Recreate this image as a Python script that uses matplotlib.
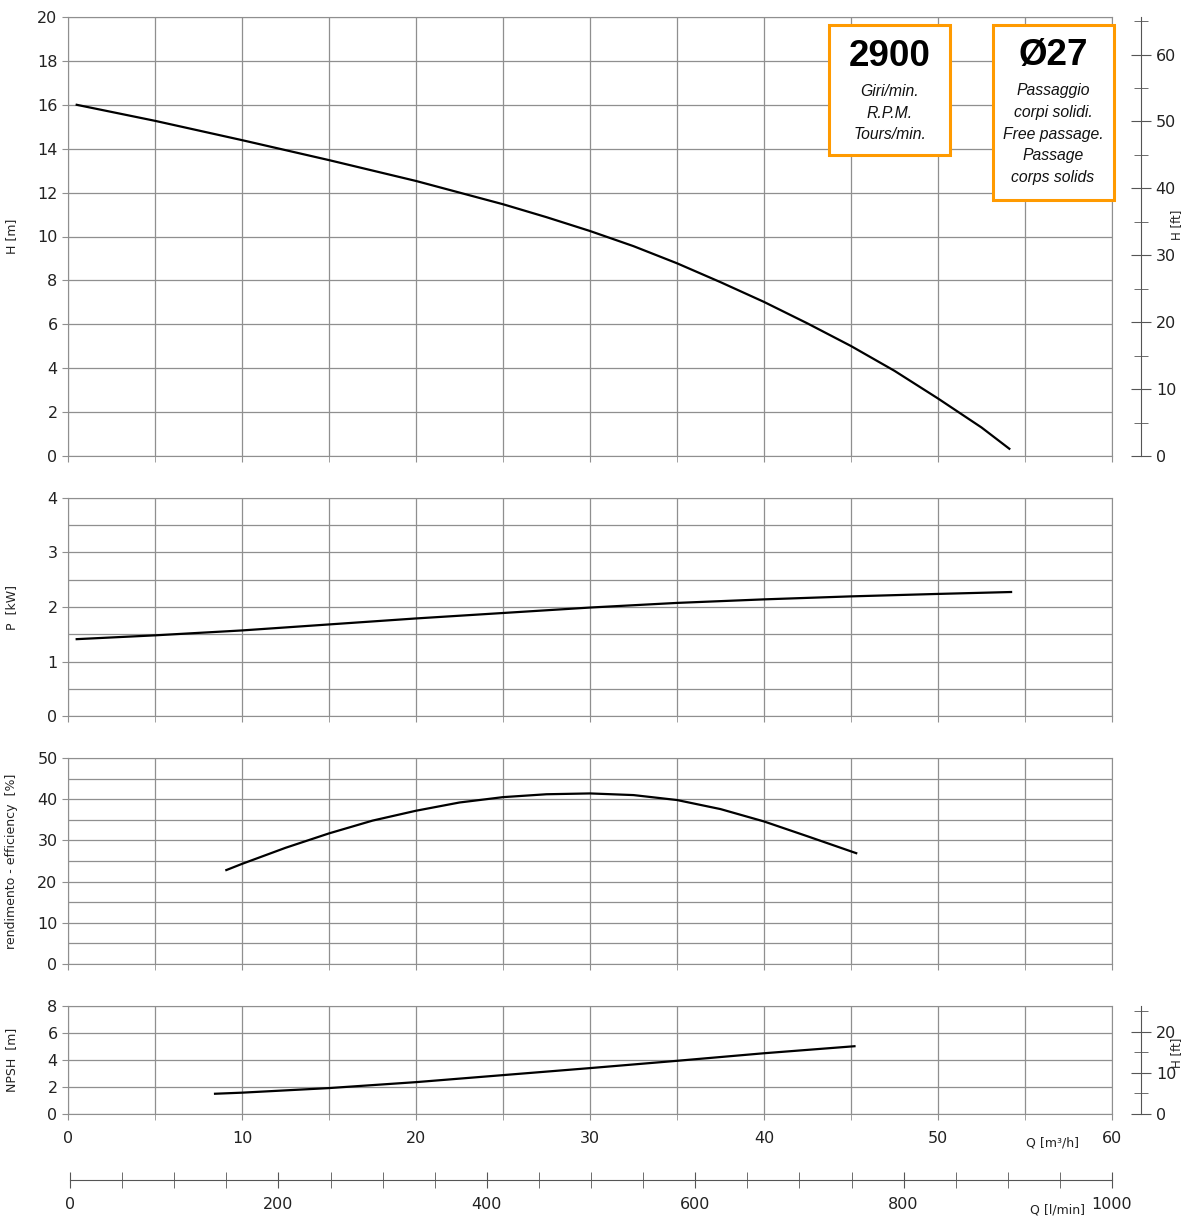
import numpy as np
import matplotlib
matplotlib.use("Agg")
import matplotlib.pyplot as plt
from matplotlib.patches import Rectangle
from matplotlib.ticker import MultipleLocator

# --- curves (Q in m3/h) ---------------------------------------------------
Q_H = [0.5, 5, 10, 15, 20, 25, 27.5, 30, 32.5, 35, 37.5, 40, 42.5, 45,
       47.5, 50, 52.5, 54.1]
H_m = [16.0, 15.27, 14.39, 13.48, 12.53, 11.47, 10.88, 10.25, 9.56, 8.78,
       7.92, 7.02, 6.04, 5.01, 3.88, 2.62, 1.30, 0.33]

Q_P = [0.5, 5, 10, 15, 20, 25, 30, 35, 40, 45, 50, 54.2]
P_kW = [1.41, 1.48, 1.57, 1.68, 1.79, 1.89, 1.99, 2.075, 2.14, 2.195, 2.24, 2.275]

Q_EFF = [9.1, 10, 12.5, 15, 17.5, 20, 22.5, 25, 27.5, 30, 32.5, 35, 37.5,
         40, 42.5, 45.3]
EFF = [22.8, 24.3, 28.2, 31.7, 34.8, 37.2, 39.2, 40.5, 41.2, 41.4, 41.0,
       39.8, 37.6, 34.6, 31.0, 26.9]

Q_NPSH = [8.45, 10, 15, 20, 25, 30, 35, 40, 45.2]
NPSH = [1.5, 1.58, 1.92, 2.36, 2.88, 3.40, 3.94, 4.5, 5.02]

M_TO_FT = 3.2808
GRID = "#8f8f8f"
ORANGE = "#FF9A00"
TXT = "#222222"
NARROW = ["Liberation Sans Narrow", "Liberation Sans", "DejaVu Sans"]

W, H = 1185, 1217
fig = plt.figure(figsize=(W / 100, H / 100), dpi=100)
plt.rcParams["font.family"] = ["DejaVu Sans"]


def fx(px):
    return px / W


def fy(py):
    return 1 - py / H


X0, X1 = 68, 1112


def panel(top, bottom, ymax, major, grid_step, ylabel, show_x=False):
    ax = fig.add_axes([fx(X0), fy(bottom), fx(X1 - X0), fy(top) - fy(bottom)])
    ax.set_xlim(0, 60)
    ax.set_ylim(0, ymax)
    ax.xaxis.set_major_locator(MultipleLocator(10))
    ax.xaxis.set_minor_locator(MultipleLocator(5))
    ax.yaxis.set_major_locator(MultipleLocator(major))
    ax.yaxis.set_minor_locator(MultipleLocator(grid_step))
    ax.grid(True, which="both", color=GRID, lw=0.9)
    for s in ax.spines.values():
        s.set_color(GRID)
    ax.tick_params(which="both", color=GRID, length=4, labelsize=11.5,
                   labelcolor=TXT)
    ax.tick_params(axis="y", which="minor", length=0)
    if not show_x:
        ax.tick_params(axis="x", which="both", labelbottom=False)
    ax.set_ylabel(ylabel, fontsize=9, color=TXT)
    ax.yaxis.set_label_coords(-0.048, 0.5)
    return ax


def ft_axis(ax, ymax_m, label_y):
    tw = ax.twinx()
    tw.set_ylim(0, ymax_m * M_TO_FT)
    for k in ("top", "bottom", "left"):
        tw.spines[k].set_visible(False)
    tw.spines["right"].set_position(("outward", 21))
    tw.spines["right"].set_color("#555555")
    tw.yaxis.set_major_locator(MultipleLocator(10))
    tw.yaxis.set_minor_locator(MultipleLocator(5))
    tw.tick_params(which="both", direction="inout", length=14, color="#555555",
                   labelsize=11.5, labelcolor=TXT)
    tw.tick_params(which="minor", length=10)
    fig.text(fx(1177), fy(label_y), "H [ft]", fontsize=8.5, color=TXT,
             rotation=90, ha="center", va="center")
    return tw


# H panel
ax1 = panel(17, 456, 20, 2, 2, "H [m]")
ax1.plot(Q_H, H_m, color="black", lw=1.6)
ft_axis(ax1, 20, 225)

# P panel
ax2 = panel(498, 716, 4, 1, 0.5, "P  [kW]")
ax2.plot(Q_P, P_kW, color="black", lw=1.6)

# efficiency panel
ax3 = panel(758, 964, 50, 10, 5, "rendimento - efficiency  [%]")
ax3.plot(Q_EFF, EFF, color="black", lw=1.6)

# NPSH panel
ax4 = panel(1006, 1114, 8, 2, 2, "NPSH  [m]", show_x=True)
ax4.plot(Q_NPSH, NPSH, color="black", lw=1.6)
ft_axis(ax4, 8, 1053)
ax4.tick_params(axis="x", which="major", pad=8)
fig.text(fx(1053), fy(1143), "Q [m³/h]", fontsize=9, color=TXT,
         ha="center", va="center")

# l/min axis
axq = fig.add_axes([fx(70), fy(1180), fx(X1 - 70), 0.001])
axq.set_xlim(0, 1000)
axq.set_ylim(0, 1)
for k in ("top", "left", "right"):
    axq.spines[k].set_visible(False)
axq.spines["bottom"].set_color("#555555")
axq.set_yticks([])
axq.xaxis.set_major_locator(MultipleLocator(200))
axq.xaxis.set_minor_locator(MultipleLocator(50))
axq.tick_params(which="both", direction="inout", length=12, color="#555555",
                labelsize=11.5, labelcolor=TXT, pad=6)
fig.text(fx(1058), fy(1210), "Q [l/min]", fontsize=9, color=TXT,
         ha="center", va="center")

# info boxes
for (x0, y0, x1, y1) in ((829, 25, 950, 155), (993, 25, 1114, 200)):
    fig.patches.append(Rectangle((fx(x0), fy(y1)), fx(x1 - x0), fy(y0) - fy(y1),
                                 transform=fig.transFigure, facecolor="white",
                                 edgecolor=ORANGE, lw=2.2, zorder=5))

fig.text(fx(890), fy(56), "2900", family=NARROW, fontsize=26.5, weight="bold",
         ha="center", va="center", zorder=6)
fig.text(fx(890), fy(113), "Giri/min.\nR.P.M.\nTours/min.", family=NARROW,
         fontsize=11.3, style="italic", ha="center", va="center",
         linespacing=1.55, color="#111111", zorder=6)
fig.text(fx(1053), fy(56), "Ø27", family=NARROW, fontsize=26.5, weight="bold",
         ha="center", va="center", zorder=6)
fig.text(fx(1053), fy(134),
         "Passaggio\ncorpi solidi.\nFree passage.\nPassage\ncorps solids",
         family=NARROW, fontsize=11.3, style="italic", ha="center",
         va="center", linespacing=1.55, color="#111111", zorder=6)

fig.savefig("out.png", dpi=100)
